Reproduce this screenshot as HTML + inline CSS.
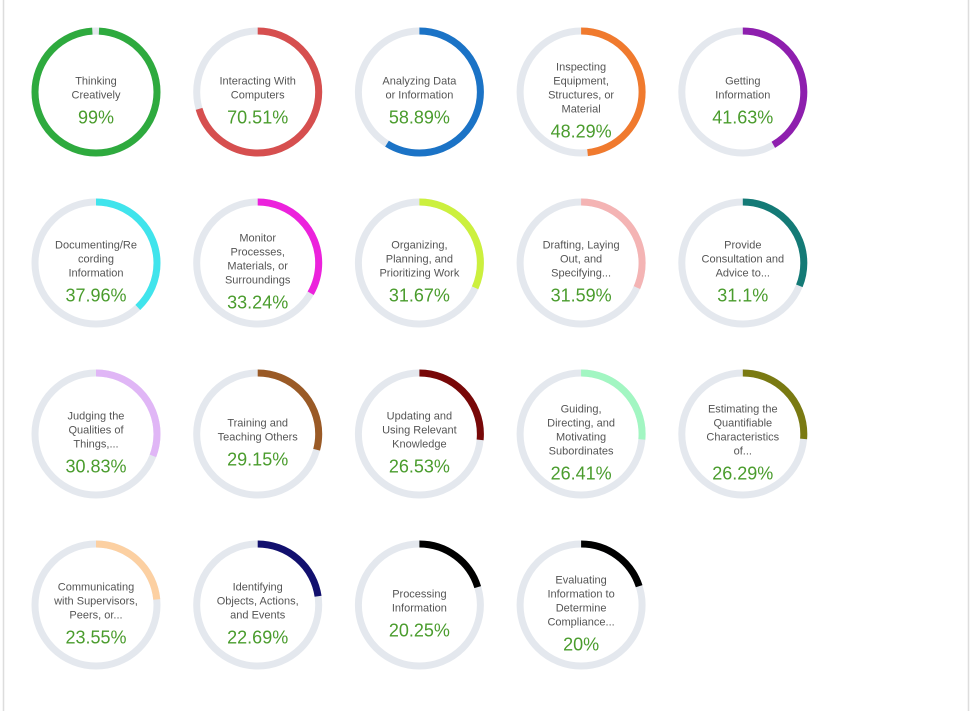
<!DOCTYPE html>
<html><head><meta charset="utf-8"><style>
body{margin:0;background:#fff;width:972px;height:711px;overflow:hidden}
svg{display:block}
.l{font-family:"Liberation Sans",sans-serif;font-size:11px;fill:#555;text-anchor:middle}
.p{font-family:"Liberation Sans",sans-serif;font-size:18px;fill:#4a9c2d;text-anchor:middle}
</style></head><body>
<svg width="972" height="711" id="s">
<line x1="3.5" y1="0" x2="3.5" y2="711" stroke="#ddd" stroke-width="1.5"/>
<line x1="968.5" y1="0" x2="968.5" y2="711" stroke="#ddd" stroke-width="1.5"/>
</svg>
<script>
var d=[
["Thinking|Creatively",99,"#2eaa3e"],["Interacting With|Computers",70.51,"#d64f4f"],["Analyzing Data|or Information",58.89,"#1b73c6"],["Inspecting|Equipment,|Structures, or|Material",48.29,"#f07a2e"],["Getting|Information",41.63,"#8e1fae"],
["Documenting/Re|cording|Information",37.96,"#40e4ec"],["Monitor|Processes,|Materials, or|Surroundings",33.24,"#ec22dc"],["Organizing,|Planning, and|Prioritizing Work",31.67,"#ccf03e"],["Drafting, Laying|Out, and|Specifying...",31.59,"#f4b4b4"],["Provide|Consultation and|Advice to...",31.1,"#147a76"],
["Judging the|Qualities of|Things,...",30.83,"#e0b6f6"],["Training and|Teaching Others",29.15,"#9a5a26"],["Updating and|Using Relevant|Knowledge",26.53,"#780808"],["Guiding,|Directing, and|Motivating|Subordinates",26.41,"#a2f6c2"],["Estimating the|Quantifiable|Characteristics|of...",26.29,"#7a7a12"],
["Communicating|with Supervisors,|Peers, or...",23.55,"#fcd0a2"],["Identifying|Objects, Actions,|and Events",22.69,"#12106e"],["Processing|Information",20.25,"#000"],["Evaluating|Information to|Determine|Compliance...",20,"#000"]];
var s=document.getElementById('s'),h='',r=61,C=2*Math.PI*r;
d.forEach(function(e,i){var cx=96+(i%5)*161.7,cy=92+Math.floor(i/5)*171;
h+='<circle cx="'+cx+'" cy="'+cy+'" r="'+r+'" fill="none" stroke="#e4e8ee" stroke-width="7"/>';
var L=C*e[1]/100,g=e[1]>=99?3:0;
h+='<circle cx="'+cx+'" cy="'+cy+'" r="'+r+'" fill="none" stroke="'+e[2]+'" stroke-width="7" stroke-dasharray="'+(L-g)+' '+C+'" transform="rotate(-90 '+cx+' '+cy+')" stroke-dashoffset="'+(-g)+'"/>';
var ls=e[0].split('|'),n=ls.length,tot=(n-1)*14+23,top=cy-tot/2+7;
ls.forEach(function(t,j){h+='<text class="l" x="'+cx+'" y="'+(top+j*14+4)+'">'+t+'</text>';});
h+='<text class="p" x="'+cx+'" y="'+(top+(n-1)*14+23+6)+'">'+e[1]+'%</text>';});
s.innerHTML+=h;
</script>
</body></html>
